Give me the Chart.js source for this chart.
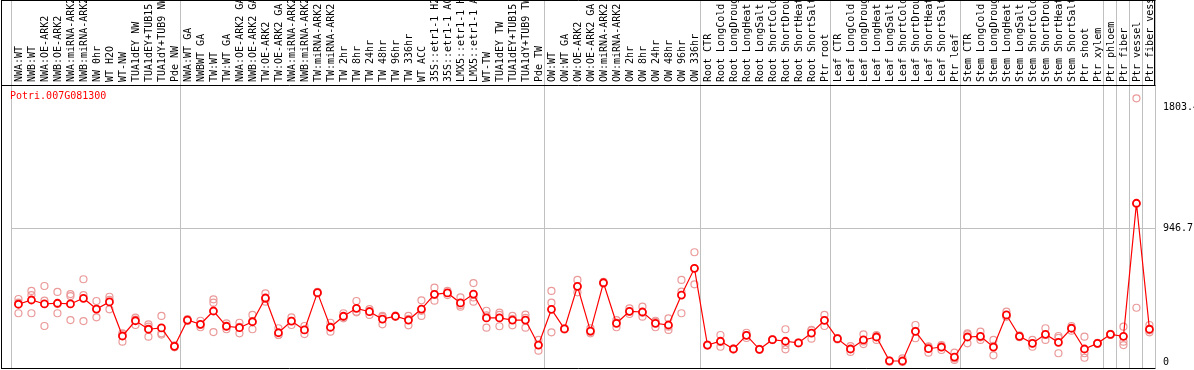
<!DOCTYPE html>
<html>
<head>
<meta charset="utf-8">
<script src="https://cdn.jsdelivr.net/npm/chart.js@4/dist/chart.umd.min.js"></script>
<style>
  html, body { margin: 0; padding: 0; background: #fff; overflow: hidden; }
  canvas { display: block; }
</style>
</head>
<body>
<canvas id="expr-chart" width="1194" height="370"></canvas>
<script>
// Gene shown in the chart
const geneId = 'Potri.007G081300';

// Sample / condition names (x categories)
const conditions = [
    'NWA:WT', 'NWB:WT', 'NWA:OE-ARK2', 'NWB:OE-ARK2', 'NWA:miRNA-ARK2', 'NWB:miRNA-ARK2',
    'NW 0hr', 'WT H2O', 'WT-NW', 'TUA1dEY NW', 'TUA1dEY+TUB15 NW', 'TUA1dY+TUB9 NW', 'Pde NW',
    'NWA:WT GA', 'NWBWT GA', 'TW:WT', 'TW:WT GA', 'NWA:OE-ARK2 GA', 'NWB:OE-ARK2 GA',
    'TW:OE-ARK2', 'TW:OE-ARK2 GA', 'NWA:miRNA-ARK2 GA', 'NWB:miRNA-ARK2 GA', 'TW:miRNA-ARK2',
    'TW:miRNA-ARK2 GA', 'TW 2hr', 'TW 8hr', 'TW 24hr', 'TW 48hr', 'TW 96hr', 'TW 336hr', 'WT ACC',
    '35S::etr1-1 H2O', '35S::etr1-1 ACC', 'LMX5::etr1-1 H2O', 'LMX5::etr1-1 ACC', 'WT-TW',
    'TUA1dEY TW', 'TUA1dEY+TUB15 TW', 'TUA1dY+TUB9 TW', 'Pde TW',
    'OW:WT', 'OW:WT GA', 'OW:OE-ARK2', 'OW:OE-ARK2 GA', 'OW:miRNA-ARK2', 'OW:miRNA-ARK2 GA',
    'OW 2hr', 'OW 8hr', 'OW 24hr', 'OW 48hr', 'OW 96hr', 'OW 336hr',
    'Root CTR', 'Root LongCold', 'Root LongDrought', 'Root LongHeat', 'Root LongSalt',
    'Root ShortCold', 'Root ShortDrought', 'Root ShortHeat', 'Root ShortSalt', 'Ptr root',
    'Leaf CTR', 'Leaf LongCold', 'Leaf LongDrought', 'Leaf LongHeat', 'Leaf LongSalt',
    'Leaf ShortCold', 'Leaf ShortDrought', 'Leaf ShortHeat', 'Leaf ShortSalt', 'Ptr leaf',
    'Stem CTR', 'Stem LongCold', 'Stem LongDrought', 'Stem LongHeat', 'Stem LongSalt',
    'Stem ShortCold', 'Stem ShortDrought', 'Stem ShortHeat', 'Stem ShortSalt', 'Ptr shoot', 'Ptr xylem',
    'Ptr phloem', 'Ptr fiber', 'Ptr vessel', 'Ptr fiber vessel'
];

// Mean expression per condition
const meanValues = [
    409, 439, 411, 416, 411, 451, 375, 425, 184, 292, 232, 241, 111,
    297, 267, 361, 253, 243, 285, 453, 207, 290, 227, 491, 246, 324, 380, 356, 304, 324, 297, 375, 479, 489, 418, 481, 312, 312, 297, 297, 120,
    373, 234, 536, 219, 561, 274, 359, 354, 274, 262, 474, 663,
    120, 147, 92, 189, 90, 158, 147, 135, 205, 295,
    165, 92, 156, 177, 8, 7, 217, 94, 106, 35,
    177, 182, 106, 333, 182, 132, 196, 139, 239, 92, 132,
    196, 182, 1124, 232
];

// Replicate values
const rep1 = [
    446, 503, 538, 496, 481, 586, 432, 462, 203, 314, 267, 326, 111,
    297, 292, 444, 274, 278, 333, 486, 239, 316, 255, 491, 278, 345, 432, 375, 326, 324, 326, 437, 526, 474, 458, 559, 363, 349, 326, 335, 156,
    503, 234, 581, 239, 561, 297, 380, 392, 292, 309, 581, 777,
    120, 191, 92, 207, 90, 158, 232, 135, 227, 333,
    165, 113, 196, 184, 2, 26, 262, 66, 120, 66,
    203, 215, 156, 356, 182, 156, 239, 184, 255, 179, 132,
    196, 250, 1867, 262
];
const rep2 = [
    345, 474, 434, 345, 467, 474, 316, 373, 144, 262, 179, 203, 104,
    290, 246, 420, 232, 203, 232, 427, 191, 262, 198, 485, 215, 309, 356, 333, 267, 320, 260, 326, 434, 489, 392, 427, 243, 253, 260, 243, 80,
    420, 230, 493, 203, 555, 246, 340, 321, 246, 227, 498, 550,
    116, 108, 95, 170, 93, 155, 90, 132, 165, 255,
    160, 71, 127, 156, 6, 0, 168, 106, 85, 14,
    132, 156, 47, 321, 176, 108, 156, 62, 222, 62, 128,
    192, 144, 384, 210
];
const rep3 = [
    420, 345, 255, 410, 297, 290, 375, 440, 200, 300, 250, 194, 118,
    304, 263, 212, 253, 248, 290, 446, 191, 292, 228, 497, 245, 318, 352, 360, 319, 328, 305, 362, 477, 504, 404, 457, 330, 334, 305, 313, 124,
    210, 238, 534, 215, 567, 279, 357, 349, 284, 250, 345, 663,
    124, 142, 89, 190, 87, 161, 120, 138, 223, 297,
    170, 92, 145, 191, 10, 5, 221, 110, 113, 25,
    196, 175, 115, 322, 188, 132, 193, 171, 240, 30, 136,
    200, 120, 1121, 224
];

// index of the first condition of each sample group
const groupStarts = [0, 13, 41, 53, 63, 73, 84, 85, 86, 87];
// y tick labels on the right
const yTicks = [0, 946.7, 1803.4];

const GRID = '#c0c0c0';
const MONO = { family: 'DejaVu Sans Mono', size: 10 };

// black frame + gene name
const framePlugin = {
    id: 'frame',
    afterDraw(chart) {
        const { ctx, chartArea } = chart;
        const r = Math.floor(chartArea.right) - 0.5;
        const top = Math.floor(chartArea.top) + 0.5;
        const bot = Math.floor(chartArea.bottom) + 0.5;
        ctx.save();
        ctx.strokeStyle = '#000';
        ctx.lineWidth = 1;
        ctx.beginPath();
        ctx.moveTo(1.5, 0); ctx.lineTo(1.5, bot + 0.5);
        ctx.moveTo(1, 0.5); ctx.lineTo(r + 1, 0.5);
        ctx.moveTo(1, top); ctx.lineTo(r + 1, top);
        ctx.moveTo(1, bot); ctx.lineTo(r + 1, bot);
        ctx.moveTo(r, 0); ctx.lineTo(r, top);
        ctx.stroke();
        ctx.fillStyle = '#ff0000';
        ctx.font = '10px "DejaVu Sans Mono"';
        ctx.textBaseline = 'middle';
        ctx.textAlign = 'left';
        ctx.fillText(geneId, 10, top + 11);
        ctx.restore();
    }
};

const repStyle = {
    showLine: false,
    pointRadius: 3.5,
    pointBorderWidth: 1.2,
    pointBorderColor: '#eb9a9a',
    pointBackgroundColor: 'rgba(0,0,0,0)'
};

function noPad(scale) {
    scale.paddingTop = 0;
    scale.paddingBottom = 0;
    scale.paddingLeft = 0;
    scale.paddingRight = 0;
}

new Chart(document.getElementById('expr-chart'), {
    type: 'line',
    data: {
        labels: conditions,
        datasets: [
            {
                label: 'mean',
                data: meanValues,
                borderColor: '#ff0000',
                borderWidth: 1.2,
                pointRadius: 3.5,
                pointBorderWidth: 1.8,
                pointBorderColor: '#ff0000',
                pointBackgroundColor: '#ffffff',
                tension: 0
            },
            { label: 'rep1', data: rep1, ...repStyle },
            { label: 'rep2', data: rep2, ...repStyle },
            { label: 'rep3', data: rep3, ...repStyle }
        ]
    },
    options: {
        responsive: false,
        animation: false,
        layout: { autoPadding: false, padding: { left: 11.95, right: 0, top: 0, bottom: 2 } },
        plugins: {
            legend: { display: false },
            tooltip: { enabled: false }
        },
        scales: {
            x: {
                type: 'category',
                position: 'top',
                offset: true,
                border: { display: false },
                grid: {
                    offset: true,
                    drawTicks: true,
                    tickLength: 85,
                    lineWidth: 1,
                    color: c => (c.index === undefined || groupStarts.includes(c.index)) ? GRID : 'rgba(0,0,0,0)'
                },
                ticks: {
                    autoSkip: false,
                    minRotation: 90,
                    maxRotation: 90,
                    padding: -82,
                    labelOffset: 13,
                    color: '#000',
                    font: MONO
                },
                afterFit(scale) { scale.height = 85; noPad(scale); }
            },
            y: {
                type: 'linear',
                position: 'right',
                min: -42.5,
                max: 1961.3,
                border: { display: false },
                grid: {
                    drawTicks: false,
                    color: c => (c.tick && c.tick.value === 946.7) ? GRID : 'rgba(0,0,0,0)'
                },
                afterBuildTicks(scale) { scale.ticks = yTicks.map(v => ({ value: v })); },
                ticks: {
                    padding: 7,
                    color: '#000',
                    font: MONO,
                    callback: v => String(v)
                },
                afterFit(scale) { scale.width = 38.05; noPad(scale); }
            }
        }
    },
    plugins: [framePlugin]
});
</script>
</body>
</html>
